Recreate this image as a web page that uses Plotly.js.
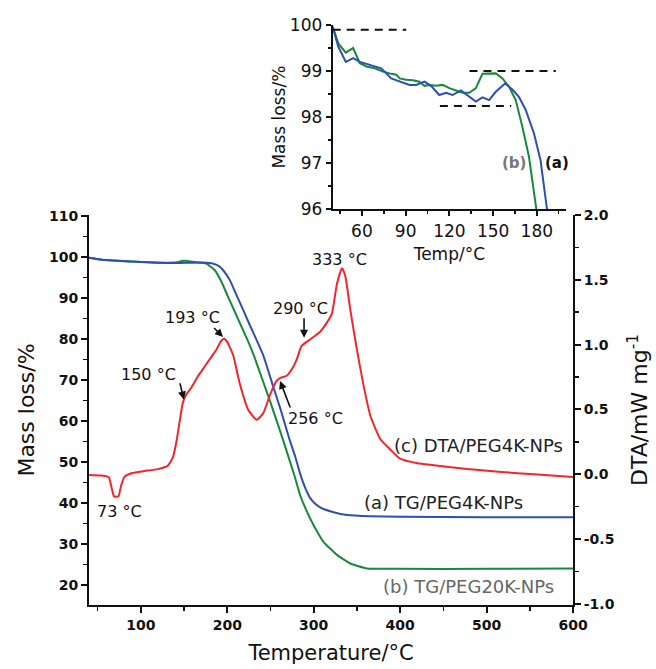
<!DOCTYPE html>
<html>
<head>
<meta charset="utf-8">
<script src="https://cdn.plot.ly/plotly-3.0.1.min.js"></script>
<style>html,body{margin:0;padding:0;background:#fff;}#chart{width:656px;height:669px;}</style>
</head>
<body>
<div id="chart"></div>
<script>
// ---- main panel: TG (a) PEG4K-NPs ----
const tgA_T = [40, 55, 67, 85, 106, 130, 145, 160, 175, 183, 190, 195, 202.8, 210.6, 218.3, 226, 233.8, 241.5, 253, 262, 272, 278.4, 284.2, 290, 295.8, 301, 307.4, 323, 338.5, 365.6, 400, 500, 600];
const tgA_M = [99.8, 99.3, 99.1, 98.9, 98.7, 98.5, 98.5, 98.6, 98.6, 98.4, 97.8, 96.8, 94.4, 90.7, 87.1, 83.4, 79.8, 76.1, 68.5, 62.6, 55.5, 51.5, 47.2, 43.8, 41.3, 40.0, 39.0, 37.8, 37.1, 36.8, 36.7, 36.6, 36.6];
// ---- main panel: TG (b) PEG20K-NPs ----
const tgB_T = [40, 55, 70, 90, 110, 130, 142, 147, 154, 160, 168, 175.6, 185.3, 193.1, 200.8, 208.6, 216.4, 224.1, 231, 250, 262, 272, 278, 284.2, 292, 299.7, 311.3, 326.9, 342.3, 361.7, 400, 500, 600];
const tgB_M = [99.8, 99.3, 99.1, 98.85, 98.7, 98.6, 98.7, 99.0, 99.0, 98.8, 98.6, 98.4, 96.8, 94.0, 90.3, 86.7, 83.0, 79.4, 75.8, 64.5, 57.0, 50.5, 46.5, 42.0, 38.0, 34.7, 30.6, 27.4, 25.3, 24.1, 24.0, 24.0, 24.1];
// ---- main panel: DTA (c) PEG4K-NPs ----
const dta_T = [40, 55, 63, 66, 69, 74, 77, 81, 90, 104, 119.5, 131, 136.9, 140.8, 144.7, 148.5, 152, 158.3, 166, 173.7, 181, 187.3, 192, 196, 200, 206.7, 214.4, 224, 233.8, 241.5, 249.3, 257, 262, 268.7, 276.4, 280, 286, 295.8, 307.4, 315.2, 321, 326.9, 332.7, 336.5, 342.3, 350, 357.8, 365.6, 377.2, 388.8, 400, 420, 439, 478, 517, 555, 600];
const dta_V = [-0.005, -0.01, -0.025, -0.1, -0.17, -0.17, -0.09, -0.02, 0.01, 0.025, 0.04, 0.065, 0.128, 0.24, 0.40, 0.55, 0.61, 0.667, 0.756, 0.83, 0.9, 0.96, 1.02, 1.045, 1.02, 0.92, 0.70, 0.5, 0.42, 0.47, 0.61, 0.72, 0.745, 0.76, 0.83, 0.88, 0.99, 1.04, 1.10, 1.17, 1.24, 1.47, 1.59, 1.53, 1.27, 0.96, 0.68, 0.45, 0.27, 0.19, 0.12, 0.085, 0.07, 0.04, 0.018, 0.0, -0.02];
// ---- inset panel (40-200 °C detail) ----
const inA_T = [40, 43.8, 49, 54, 58.6, 65.4, 73.3, 80.1, 85.9, 92.7, 97.2, 102.9, 107.4, 113.1, 117.7, 122.2, 127.9, 132.4, 138.2, 142.7, 147.3, 151.8, 158.2, 163.2, 167.7, 172.3, 178, 182.5, 187, 192];
const inA_M = [99.96, 99.53, 99.2, 99.28, 99.2, 99.13, 99.06, 98.84, 98.77, 98.7, 98.7, 98.77, 98.68, 98.48, 98.53, 98.48, 98.58, 98.48, 98.34, 98.43, 98.37, 98.55, 98.73, 98.6, 98.44, 98.16, 97.65, 97.07, 96.0, 94.8];
const inB_T = [40, 43.8, 49, 54, 58.6, 63.2, 68.8, 74.5, 80.1, 83.6, 85.9, 90.4, 95, 99.5, 102.9, 106.3, 110.9, 115.4, 120, 124.5, 129, 133.6, 138.2, 142.7, 147.3, 151.8, 156.4, 161, 165.5, 170, 174.6, 178, 180.3, 185];
const inB_M = [99.96, 99.6, 99.4, 99.5, 99.17, 99.1, 99.06, 98.99, 98.94, 98.92, 98.84, 98.81, 98.8, 98.77, 98.68, 98.7, 98.68, 98.7, 98.63, 98.58, 98.53, 98.53, 98.63, 98.94, 98.94, 98.95, 98.84, 98.66, 98.37, 97.8, 97.14, 96.5, 96.0, 94.8];
const guideX = [[40, 90.4], [133.8, 193], [113.5, 162.4]];
const guideY = [99.9, 99.0, 98.24];
// ---- tick labels (right axis) ----
const dtaTickVals = [-1.0, -0.5, 0.0, 0.5, 1.0, 1.5, 2.0];
const dtaTickText = ['-1.0', '-0.5', '0.0', '0.5', '1.0', '1.5', '2.0'];
// ---- labels ----
const peakLabels = ['333 °C', '290 °C', '193 °C', '150 °C', '256 °C', '73 °C'];
const peakLabelX = [329.5, 284.2, 159.8, 108.6, 301.6, 74.9];
const peakLabelY = [1.654, 1.277, 1.208, 0.77, 0.43, -0.285];
const arrowHeadX = [149.7, 195, 288.8, 261];
const arrowHeadY = [0.577, 1.06, 1.054, 0.72];
const arrowTailX = [144.7, 183, 288.8, 273.7];
const arrowTailY = [0.718, 1.14, 1.22, 0.5];
const curveLabels = ['(c) DTA/PEG4K-NPs', '(a) TG/PEG4K-NPs', '(b) TG/PEG20K-NPs'];
const curveLabelX = [491, 450.5, 479.5];
const curveLabelY = [0.223, -0.215, -0.862];

const BLUE = '#2f4fb0', GREEN = '#17893b', RED = '#f2262a';
const FF = 'DejaVu Sans';

const traces = [
  {x: tgB_T, y: tgB_M, xaxis: 'x', yaxis: 'y', mode: 'lines', line: {color: GREEN, width: 2, shape: 'spline', smoothing: 0.4}, showlegend: false},
  {x: tgA_T, y: tgA_M, xaxis: 'x', yaxis: 'y', mode: 'lines', line: {color: BLUE, width: 2, shape: 'spline', smoothing: 0.4}, showlegend: false},
  {x: dta_T, y: dta_V, xaxis: 'x', yaxis: 'y2', mode: 'lines', line: {color: RED, width: 2, shape: 'spline', smoothing: 0.5}, showlegend: false},
  {x: inB_T, y: inB_M, xaxis: 'x2', yaxis: 'y3', mode: 'lines', line: {color: GREEN, width: 2}, showlegend: false},
  {x: inA_T, y: inA_M, xaxis: 'x2', yaxis: 'y3', mode: 'lines', line: {color: BLUE, width: 2}, showlegend: false}
];
guideX.forEach((gx, i) => {
  traces.push({x: gx, y: [guideY[i], guideY[i]], xaxis: 'x2', yaxis: 'y3', mode: 'lines', line: {color: '#111', width: 2, dash: '8px,6px'}, showlegend: false});
});

const annotations = [];
peakLabels.forEach((t, i) => annotations.push({text: t, x: peakLabelX[i], y: peakLabelY[i], xref: 'x', yref: 'y2', showarrow: false, font: {family: FF, size: 16, color: '#111'}}));
arrowHeadX.forEach((hx, i) => annotations.push({text: ' ', x: hx, y: arrowHeadY[i], ax: arrowTailX[i], ay: arrowTailY[i], xref: 'x', yref: 'y2', axref: 'x', ayref: 'y2', showarrow: true, arrowhead: 2, arrowsize: 1, arrowwidth: 1.6, arrowcolor: '#111', standoff: 0, startstandoff: 0, font: {size: 1}}));
const curveColors = ['#222', '#222', '#666'];
curveLabels.forEach((t, i) => annotations.push({text: t, x: curveLabelX[i], y: curveLabelY[i], xref: 'x', yref: 'y2', showarrow: false, font: {family: FF, size: 18, color: curveColors[i]}}));
annotations.push({text: '<b>(b)</b>', x: 164.3, y: 97.0, xref: 'x2', yref: 'y3', showarrow: false, font: {family: FF, size: 15, color: '#777'}});
annotations.push({text: '<b>(a)</b>', x: 193.6, y: 97.0, xref: 'x2', yref: 'y3', showarrow: false, font: {family: FF, size: 15, color: '#111'}});

const mainAxis = {
  showline: true, linecolor: '#111', linewidth: 2, ticks: 'outside', ticklen: 6, tickwidth: 2, tickcolor: '#111',
  showgrid: false, zeroline: false, tickfont: {family: FF, size: 14, weight: 'bold', color: '#111'}
};
const insetAxis = {
  showline: true, linecolor: '#111', linewidth: 2, ticks: 'outside', ticklen: 5, tickwidth: 2, tickcolor: '#111',
  showgrid: false, zeroline: false, tickfont: {family: FF, size: 17, color: '#111'}
};

const layout = {
  width: 656, height: 669,
  margin: {l: 0, r: 0, t: 0, b: 0},
  paper_bgcolor: '#fff', plot_bgcolor: 'rgba(0,0,0,0)',
  showlegend: false,
  xaxis: Object.assign({}, mainAxis, {
    domain: [0.1357, 0.8735], range: [40, 600], anchor: 'y', dtick: 100, tick0: 0,
    minor: {dtick: 50, ticklen: 4, tickwidth: 1.5, ticks: 'outside', tickcolor: '#111'},
    title: {text: 'Temperature/°C', standoff: 14, font: {family: FF, size: 21, color: '#111'}}
  }),
  yaxis: Object.assign({}, mainAxis, {
    domain: [0.0957, 0.6786], range: [15.2, 110.2], anchor: 'x', dtick: 10, tick0: 0,
    minor: {dtick: 5, ticklen: 4, tickwidth: 1.5, ticks: 'outside', tickcolor: '#111'},
    title: {text: 'Mass loss/%', standoff: 8, font: {family: FF, size: 22, color: '#111'}}
  }),
  yaxis2: Object.assign({}, mainAxis, {
    overlaying: 'y', side: 'right', anchor: 'x', range: [-1.008, 2.0],
    tickmode: 'array', tickvals: dtaTickVals, ticktext: dtaTickText,
    minor: {dtick: 0.25, tick0: 0, ticklen: 4, tickwidth: 1.5, ticks: 'outside', tickcolor: '#111'},
    title: {text: 'DTA/mW mg<sup>-1</sup>', standoff: 18, font: {family: FF, size: 22, color: '#111'}}
  }),
  xaxis2: Object.assign({}, insetAxis, {
    domain: [0.5072, 0.8628], range: [40, 200], anchor: 'y3', dtick: 30, tick0: 0,
    minor: {dtick: 15, ticklen: 3, tickwidth: 1.5, ticks: 'outside', tickcolor: '#111'},
    title: {text: 'Temp/°C', standoff: 8, font: {family: FF, size: 17, color: '#111'}}
  }),
  yaxis3: Object.assign({}, insetAxis, {
    domain: [0.6872, 0.9626], range: [96, 100], anchor: 'x2', dtick: 1, tick0: 0,
    minor: {dtick: 0.5, ticklen: 3, tickwidth: 1.5, ticks: 'outside', tickcolor: '#111'},
    title: {text: 'Mass loss/%', standoff: 0, font: {family: FF, size: 17, color: '#111'}}
  }),
  annotations: annotations
};

Plotly.newPlot('chart', traces, layout, {displayModeBar: false, staticPlot: true});
</script>
</body>
</html>
